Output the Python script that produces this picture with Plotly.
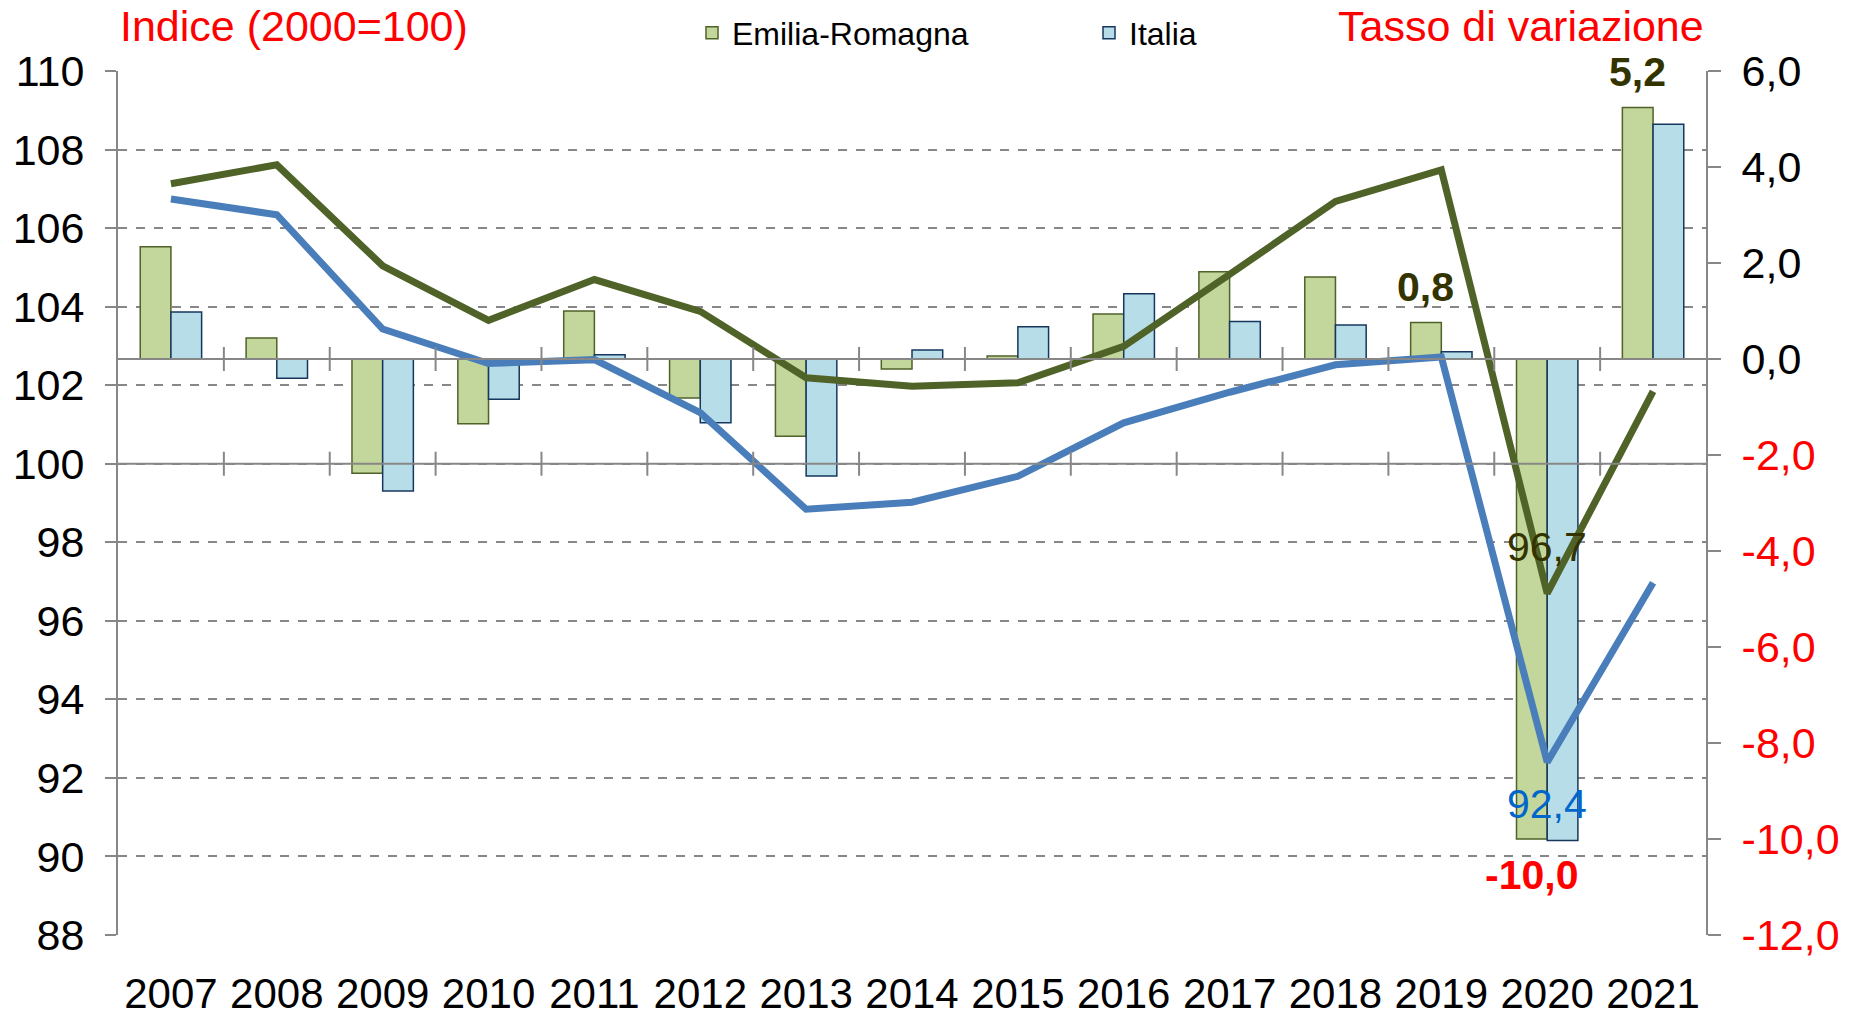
import numpy as np
import plotly.graph_objects as go

years = [str(y) for y in range(2007, 2022)]

# tasso di variazione (asse destro)
er_rate = [2.34, 0.44, -2.38, -1.35, 1.00, -0.81, -1.61, -0.21, 0.06, 0.94, 1.82, 1.71, 0.76, -10.0, 5.24]
it_rate = [0.98, -0.40, -2.75, -0.84, 0.09, -1.33, -2.44, 0.19, 0.67, 1.36, 0.78, 0.71, 0.15, -10.03, 4.89]

# indice 2000=100 (asse sinistro)
er_index = [107.13, 107.61, 105.04, 103.65, 104.69, 103.88, 102.19, 101.97, 102.06, 102.99, 104.82, 106.68, 107.48, 96.7, 101.84]
it_index = [106.74, 106.34, 103.43, 102.55, 102.65, 101.30, 98.84, 99.02, 99.68, 101.04, 101.82, 102.52, 102.72, 92.4, 96.97]

rate_range = [-12, 6]
index_range = [88, 110]

W, H = 1850, 1018
margin = dict(l=118, r=144, t=71, b=83)
plot_w = W - margin['l'] - margin['r']
plot_h = H - margin['t'] - margin['b']
bargap = 0.42

FONT = "Arial, Liberation Sans, sans-serif"
GREEN_FILL, GREEN_EDGE = '#c3d69b', '#4f6228'
BLUE_FILL, BLUE_EDGE = '#b7dde8', '#17375e'
GREEN_LINE, BLUE_LINE = '#4f6228', '#4a7ebb'
GRID = '#878787'
DARK = '#333300'


def fmt(v):
    return f"{v:.1f}".replace('.', ',')


fig = go.Figure()

fig.add_trace(go.Bar(
    x=years, y=er_rate, name='Emilia-Romagna',
    marker=dict(color=GREEN_FILL, line=dict(color=GREEN_EDGE, width=1.5)),
))
fig.add_trace(go.Bar(
    x=years, y=it_rate, name='Italia',
    marker=dict(color=BLUE_FILL, line=dict(color=BLUE_EDGE, width=1.5)),
))
fig.add_trace(go.Scatter(
    x=years, y=er_index, yaxis='y2', mode='lines', showlegend=False,
    line=dict(color=GREEN_LINE, width=7),
))
fig.add_trace(go.Scatter(
    x=years, y=it_index, yaxis='y2', mode='lines', showlegend=False,
    line=dict(color=BLUE_LINE, width=7),
))

rate_ticks = np.arange(rate_range[0], rate_range[1] + 1, 2)
rate_text = [f"<span style='color:#ff0000'>{fmt(v)}</span>" if v < 0 else fmt(v)
             for v in rate_ticks]

fig.update_layout(
    width=W, height=H, margin=margin,
    paper_bgcolor='white', plot_bgcolor='white',
    font=dict(family=FONT, color='black'),
    barmode='group', bargap=bargap, bargroupgap=0,
    xaxis=dict(
        type='category', range=[-0.5, len(years) - 0.5], automargin=False,
        showline=False, ticks='', showgrid=False, zeroline=False,
        tickfont=dict(size=42), ticklabelstandoff=30,
    ),
    yaxis=dict(
        range=rate_range, side='right', tickvals=rate_ticks, ticktext=rate_text,
        automargin=False, showgrid=False, zeroline=False,
        showline=True, linecolor=GRID, linewidth=2,
        ticks='outside', ticklen=13, tickwidth=2, tickcolor=GRID,
        tickfont=dict(size=43), ticklabelstandoff=12,
    ),
    yaxis2=dict(
        range=index_range, side='left', overlaying='y', tick0=88, dtick=2,
        automargin=False,
        showgrid=True, gridcolor=GRID, gridwidth=2, griddash='dash', zeroline=False,
        showline=True, linecolor=GRID, linewidth=2,
        ticks='outside', ticklen=11, tickwidth=2, tickcolor=GRID,
        tickfont=dict(size=43), ticklabelstandoff=12,
    ),
    legend=dict(
        orientation='h', xref='container', yref='container',
        x=692 / W, xanchor='left',
        y=1 - 33 / H, yanchor='middle',
        font=dict(size=32), entrywidth=352, bgcolor='rgba(0,0,0,0)',
    ),
)

# category-axis lines crossing at 100 (left scale) and 0 (right scale),
# with tick marks between the years
bounds = np.arange(0.5, len(years) - 1, 1)
for yref, yval in [('y2', 100), ('y', 0)]:
    fig.add_shape(type='line', xref='paper', x0=0, x1=1, yref=yref, y0=yval, y1=yval,
                  line=dict(color=GRID, width=2), layer='above')
    for b in bounds:
        fig.add_shape(type='line', xref='x', x0=b, x1=b, yref=yref,
                      ysizemode='pixel', yanchor=yval, y0=-12, y1=12,
                      line=dict(color=GRID, width=2), layer='above')

title_y = 1 + (margin['t'] - 26) / plot_h
fig.add_annotation(text='Indice (2000=100)', xref='paper', yref='paper', x=0, y=title_y,
                   xanchor='left', yanchor='middle', showarrow=False,
                   font=dict(size=43, color='#ff0000'))
fig.add_annotation(text='Tasso di variazione', xref='paper', yref='paper', x=1, y=title_y,
                   xanchor='right', yanchor='middle', showarrow=False,
                   font=dict(size=43, color='#ff0000'))

# labels on Emilia-Romagna bars
cat_px = plot_w / len(years)
green_shift = -(1 - bargap) / 4 * cat_px
for yr in ['2019', '2020', '2021']:
    i = years.index(yr)
    v = er_rate[i]
    fig.add_annotation(
        text=f"<b>{fmt(v)}</b>", x=i, y=v, xref='x', yref='y',
        xshift=green_shift, yshift=35.5 if v >= 0 else -36,
        xanchor='center', yanchor='middle', showarrow=False,
        font=dict(size=41, color=DARK if v >= 0 else '#ff0000'),
    )

# labels on index lines in 2020
i20 = years.index('2020')
fig.add_annotation(text=fmt(er_index[i20]), x=i20, y=er_index[i20], xref='x', yref='y2',
                   yshift=46, showarrow=False, font=dict(size=41, color=DARK))
fig.add_annotation(text=fmt(it_index[i20]), x=i20, y=it_index[i20], xref='x', yref='y2',
                   yshift=-42, showarrow=False, font=dict(size=41, color='#0066cc'))

fig.write_html("out.html", config={'displayModeBar': False},
               post_script="document.body.style.margin='0';")
